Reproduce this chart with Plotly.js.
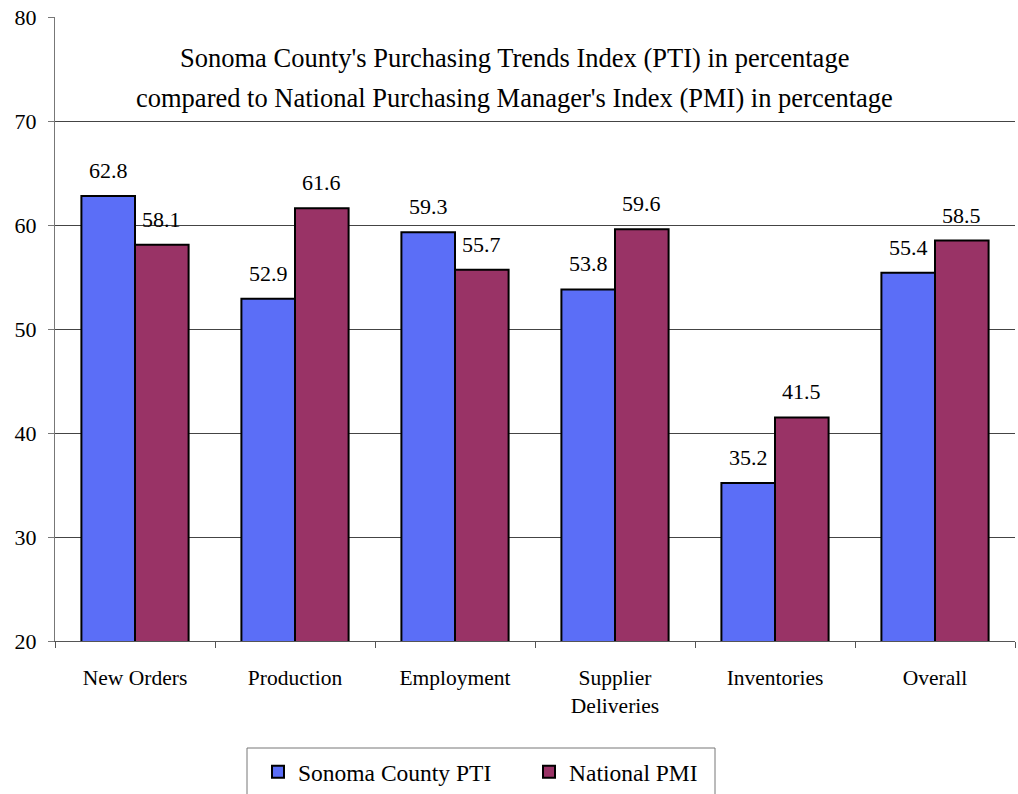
<!DOCTYPE html>
<html>
<head>
<meta charset="utf-8">
<script src="https://cdn.plot.ly/plotly-3.0.1.min.js"></script>
<style>html,body{margin:0;padding:0;background:#fff;}#chart{width:1018px;height:794px;}</style>
</head>
<body>
<div id="chart"></div>
<script>
const categories = ["New Orders", "Production", "Employment", "Supplier<br>Deliveries", "Inventories", "Overall"];
const sonomaPTI = [62.8, 52.9, 59.3, 53.8, 35.2, 55.4];
const nationalPMI = [58.1, 61.6, 55.7, 59.6, 41.5, 58.5];
const seriesNames = ["Sonoma County PTI", "National PMI"];
const titleLines = ["Sonoma County's Purchasing Trends Index (PTI) in percentage",
                    "compared to National Purchasing Manager's Index (PMI) in percentage"];
const yTicks = [20, 30, 40, 50, 60, 70, 80];

const FONT = "Liberation Serif";
const BLUE = "#5b6ef7";
const RED = "#993366";

const traces = [
  {type: "bar", name: seriesNames[0], x: categories, y: sonomaPTI,
   marker: {color: BLUE, line: {color: "#000", width: 2}}, hoverinfo: "y"},
  {type: "bar", name: seriesNames[1], x: categories, y: nationalPMI,
   marker: {color: RED, line: {color: "#000", width: 2}}, hoverinfo: "y"}
];

const ML = 55, MR = 3, MT = 17, MB = 153, W = 1018, H = 794;
const plotH = H - MT - MB, plotW = W - ML - MR;
const px2x = p => (p - ML) / plotW;
const px2y = p => (H - MB - p) / plotH;

const annotations = [];
[sonomaPTI, nationalPMI].forEach((vals, si) => {
  vals.forEach((v, i) => {
    annotations.push({
      x: categories[i], y: v, xref: "x", yref: "y",
      xshift: si === 0 ? -26.5 : 26.5, yshift: 11,
      text: v.toFixed(1), showarrow: false, yanchor: "bottom",
      font: {family: FONT, size: 22, color: "#000"}
    });
  });
});
titleLines.forEach((t, i) => {
  annotations.push({
    x: px2x(514), y: px2y(58 + i * 40), xref: "paper", yref: "paper",
    text: t, showarrow: false, xanchor: "center", yanchor: "middle",
    font: {family: FONT, size: 26.5, color: "#000"}
  });
});

const layout = {
  width: W, height: H,
  margin: {l: ML, r: MR, t: MT, b: MB, autoexpand: false},
  paper_bgcolor: "#fff", plot_bgcolor: "#fff",
  font: {family: FONT, color: "#000"},
  bargap: 0.33, bargroupgap: 0,
  showlegend: true,
  legend: {orientation: "h", x: px2x(258), xanchor: "left", y: px2y(750), yanchor: "top",
           font: {family: FONT, size: 23.5, color: "#000"}, bgcolor: "rgba(0,0,0,0)",
           borderwidth: 0, itemwidth: 30, traceorder: "normal",
           entrywidth: 226, entrywidthmode: "pixels"},
  xaxis: {
    type: "category", showgrid: false, zeroline: false,
    showline: true, linecolor: "#555", linewidth: 1,
    ticks: "outside", tickson: "boundaries", ticklen: 6, tickcolor: "#555",
    ticklabelstandoff: 17,
    tickfont: {family: FONT, size: 21.5, color: "#000"}, fixedrange: true
  },
  yaxis: {
    range: [20, 80], tickvals: yTicks, showgrid: true, gridcolor: "#444", gridwidth: 1,
    zeroline: false, showline: true, linecolor: "#777", linewidth: 1,
    ticks: "outside", ticklen: 6, tickcolor: "#777", ticklabelstandoff: 7,
    tickfont: {family: FONT, size: 22, color: "#000"}, fixedrange: true
  },
  annotations: annotations,
  shapes: [{type: "rect", xref: "paper", yref: "paper",
            x0: px2x(247), x1: px2x(715), y0: px2y(748), y1: px2y(810),
            line: {color: "#777", width: 1}, fillcolor: "rgba(0,0,0,0)"}]
};

Plotly.newPlot("chart", traces, layout, {displayModeBar: false, staticPlot: true});
</script>
</body>
</html>
